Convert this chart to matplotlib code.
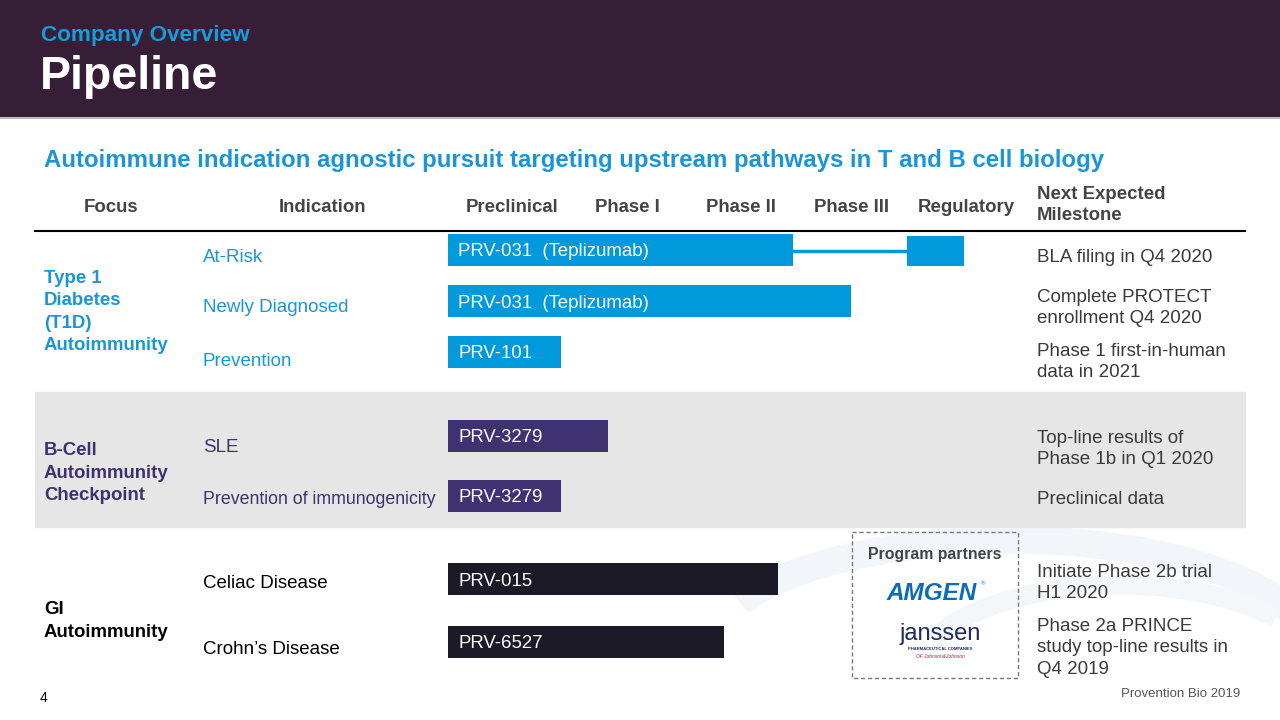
import matplotlib.pyplot as plt
from matplotlib.patches import Rectangle, Arc

plt.rcParams['font.family'] = ['Liberation Sans', 'DejaVu Sans']

# pipeline data (progress measured in phases: 0 = start of Preclinical)
phases = ['Preclinical', 'Phase I', 'Phase II', 'Phase III', 'Regulatory']
focus = ['Type 1\nDiabetes\n(T1D)\nAutoimmunity', 'B-Cell\nAutoimmunity\nCheckpoint', 'GI\nAutoimmunity']
indications = ['At-Risk', 'Newly Diagnosed', 'Prevention', 'SLE',
               'Prevention of immunogenicity', 'Celiac Disease', 'Crohn\u2019s Disease']
programs = ['PRV-031  (Teplizumab)', 'PRV-031  (Teplizumab)', 'PRV-101', 'PRV-3279',
            'PRV-3279', 'PRV-015', 'PRV-6527']
progress = [3.05, 3.57, 1.0, 1.42, 1.0, 2.92, 2.44]
group = [0, 0, 0, 1, 1, 2, 2]
# At-Risk also has a regulatory step
reg_start, reg_end = 4.06, 4.57
milestones = ['BLA filing in Q4 2020', 'Complete PROTECT\nenrollment Q4 2020',
              'Phase 1 first-in-human\ndata in 2021', 'Top-line results of\nPhase 1b in Q1 2020',
              'Preclinical data', 'Initiate Phase 2b trial\nH1 2020',
              'Phase 2a PRINCE\nstudy top-line results in\nQ4 2019']

blue = '#1A96D6'
purple = '#3D3170'
dark = '#1C1A27'
txt = '#3A3A3A'
bar_colors = ['#0099DC', '#3E3272', dark]
label_colors = [blue, purple, 'black']

# layout (pixels)
row_y = [250, 301, 352, 436, 496, 579, 642]
ind_y = [257, 308, 362, 448, 500, 583, 649]
ms_y = [257, 308, 362, 449, 500, 583, 648]
focus_y = [312, 473, 621]
phase_x = [512, 627, 741, 851, 966]

fig = plt.figure(figsize=(12.8, 7.2), dpi=100)
ax = fig.add_axes([0, 0, 1, 1])
ax.set_xlim(0, 1280)
ax.set_ylim(720, 0)
ax.axis('off')

# faint background swoosh
ax.add_patch(Arc((1010, 650), 600, 220, theta1=190, theta2=352, color='#F2F6FA', lw=20, zorder=0))
ax.add_patch(Arc((1120, 690), 430, 210, theta1=195, theta2=335, color='#F3F7FA', lw=14, zorder=0))

# header
ax.add_patch(Rectangle((0, 0), 1280, 117, color='#361E36', zorder=1))
ax.plot([0, 1280], [118, 118], color='#BBBBBB', lw=1.5)
ax.text(41, 36, 'Company Overview', color='#1A9AD8', fontsize=16.2, fontweight='bold', va='center')
ax.text(40, 77, 'Pipeline', color='white', fontsize=33.5, fontweight='bold', va='center')

ax.text(44, 161, 'Autoimmune indication agnostic pursuit targeting upstream pathways in T and B cell biology',
        color=blue, fontsize=17.3, fontweight='bold', va='center')

# column headers
hdr = dict(color='#444444', fontsize=13.4, fontweight='bold', va='center', ha='center')
ax.text(111, 207, 'Focus', **hdr)
ax.text(322, 207, 'Indication', **hdr)
for px, name in zip(phase_x, phases):
    ax.text(px, 207, name, **hdr)
ax.text(1037, 205, 'Next Expected\nMilestone', color='#444444', fontsize=13.4, fontweight='bold',
        va='center', ha='left', linespacing=1.3)
ax.plot([35, 1245], [231, 231], color='black', lw=1.5)

# grey band for B-cell group
ax.add_patch(Rectangle((35, 392), 1210, 135, color='#E6E6E6', zorder=0.5))

for fy, name, c in zip(focus_y, focus, label_colors):
    ax.text(44, fy, name, color=c, fontsize=13.4, fontweight='bold', va='center', ha='left', linespacing=1.42)

for y, name, g in zip(ind_y, indications, group):
    fs = 12.8 if len(name) > 20 else 13.5
    ax.text(203, y, name, color=label_colors[g], fontsize=fs, va='center', ha='left')

for y, m in zip(ms_y, milestones):
    ax.text(1037, y, m, color=txt, fontsize=13.5, va='center', ha='left', linespacing=1.32)

# partners box
ax.add_patch(Rectangle((852, 532), 166, 146, fill=False, ls=(0, (3, 2)), ec='#777777', lw=1, zorder=2))
ax.text(935, 555, 'Program partners', color='#444444', fontsize=11.4, fontweight='bold', ha='center', va='center')
ax.text(932, 594, 'AMGEN', color='#0B6DB7', fontsize=17.5, fontweight='heavy', fontstyle='italic',
        ha='center', va='center')
ax.text(983, 584, '\u00ae', color='#0B6DB7', fontsize=4.5, ha='center', va='center')
ax.text(940, 634, 'janssen', color='#1F2B5B', fontsize=17, ha='center', va='center')
ax.text(940, 649, 'PHARMACEUTICAL COMPANIES', color='#1F2B5B', fontsize=3, fontweight='bold', ha='center', va='center')
ax.text(940, 656, 'OF Johnson&Johnson', color='#C8102E', fontsize=3.5, fontstyle='italic', ha='center', va='center')

# footer
ax.text(40, 698, '4', color='black', fontsize=10, va='center')
ax.text(1240, 694, 'Provention Bio 2019', color='#555555', fontsize=9.5, va='center', ha='right')

# bars on their own phase scale
ax2 = fig.add_axes([448 / 1280, 0, 565 / 1280, 1])
ax2.set_xlim(0, len(phases))
ax2.set_ylim(720, 0)
ax2.axis('off')
cols = [bar_colors[g] for g in group]
ax2.barh(row_y, progress, height=32, left=0, color=cols)
ax2.barh([row_y[0] + 1], [reg_end - reg_start], height=30, left=reg_start, color=bar_colors[0])
ax2.plot([progress[0], reg_start], [row_y[0] + 1] * 2, color=bar_colors[0], lw=2.5)
for y, name in zip(row_y, programs):
    ax2.text(0.09, y, name, color='white', fontsize=13.4, va='center_baseline', ha='left')

fig.savefig('out.png', dpi=100)
